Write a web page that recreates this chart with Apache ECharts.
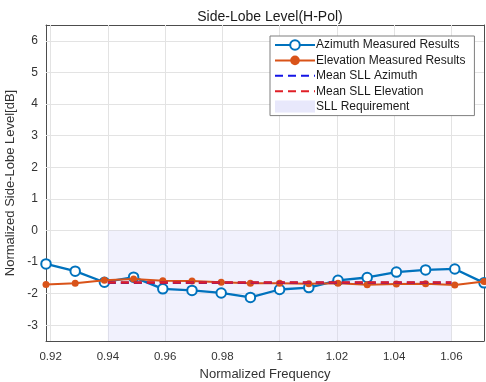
<!DOCTYPE html>
<html>
<head>
<meta charset="utf-8">
<script src="https://cdn.jsdelivr.net/npm/echarts@6/dist/echarts.min.js"></script>
<style>html,body{margin:0;padding:0;background:#fff}#c{width:486px;height:382px}</style>
</head>
<body>
<div id="c"></div>
<script>
var freq = [0.9184, 0.9286, 0.9388, 0.9490, 0.9592, 0.9694, 0.9796, 0.9898, 1.0000, 1.0102, 1.0204, 1.0306, 1.0408, 1.0510, 1.0612, 1.0714];
var azimuth = [-1.06, -1.29, -1.64, -1.48, -1.85, -1.90, -1.98, -2.12, -1.87, -1.81, -1.58, -1.49, -1.32, -1.25, -1.22, -1.66];
var elevation = [-1.71, -1.67, -1.58, -1.54, -1.59, -1.60, -1.64, -1.67, -1.67, -1.69, -1.67, -1.72, -1.70, -1.69, -1.73, -1.62];
var meanRange = [0.94, 1.06];
var meanAzimuth = -1.66;
var meanElevation = -1.65;
var reqRange = [0.94, 1.06];
var reqLevel = 0;
var xTicks = [0.92, 0.94, 0.96, 0.98, 1.00, 1.02, 1.04, 1.06];
var yTicks = [-3, -2, -1, 0, 1, 2, 3, 4, 5, 6];

function pairs(xs, ys) { return xs.map(function (x, i) { return [x, ys[i]]; }); }

var chart = echarts.init(document.getElementById('c'), null, {renderer: 'canvas'});
var font = 'Liberation Sans, Arial, sans-serif';
var axisCol = '#4d4d4d';
var gridCol = '#e3e3e3';

var xCommon = {
  type: 'value', min: freq[0], max: freq[freq.length - 1],
  axisLine: {show: true, onZero: false, lineStyle: {color: axisCol, width: 1}},
  splitLine: {show: false}
};
var yCommon = {
  type: 'value', min: -3.5, max: 6.5,
  axisLine: {show: true, onZero: false, lineStyle: {color: axisCol, width: 1}},
  splitLine: {show: false}
};

chart.setOption({
  animation: false,
  title: {
    text: 'Side-Lobe Level(H-Pol)', left: 265, top: 5, textAlign: 'center',
    textStyle: {fontFamily: font, fontSize: 14, fontWeight: 'normal', color: '#1a1a1a'}
  },
  grid: {left: 46, right: 2, top: 25, bottom: 41, containLabel: false, outerBoundsMode: 'none'},
  legend: {
    orient: 'vertical', left: 270, top: 36, z: 20,
    itemWidth: 40, itemHeight: 12, itemGap: 3.4,
    padding: [3, 9, 3, 4],
    backgroundColor: '#fff', borderColor: '#7f7f7f', borderWidth: 1,
    textStyle: {fontFamily: font, fontSize: 12, color: '#1a1a1a', padding: [0, 0, 0, -4]},
    data: [
      {name: 'Azimuth Measured Results'},
      {name: 'Elevation Measured Results'},
      {name: 'Mean SLL Azimuth', itemStyle: {opacity: 0}},
      {name: 'Mean SLL Elevation', itemStyle: {opacity: 0}},
      {name: 'SLL Requirement', icon: 'rect', itemStyle: {color: '#e8e8fb'}}
    ]
  },
  xAxis: [
    Object.assign({}, xCommon, {
      position: 'bottom',
      name: 'Normalized Frequency', nameLocation: 'middle', nameGap: 27,
      nameTextStyle: {fontFamily: font, fontSize: 13, color: '#333'},
      axisTick: {show: true, inside: true, length: 4, customValues: xTicks, lineStyle: {color: axisCol}},
      axisLabel: {customValues: xTicks, fontFamily: font, fontSize: 11.5, color: '#333', margin: 10,
        formatter: function (v) { return Math.abs(v - 1) < 1e-9 ? '1' : String(+v.toFixed(2)); }}
    }),
    Object.assign({}, xCommon, {
      position: 'top',
      axisTick: {show: true, inside: true, length: 4, customValues: xTicks, lineStyle: {color: axisCol}},
      axisLabel: {show: false}
    })
  ],
  yAxis: [
    Object.assign({}, yCommon, {
      position: 'left',
      name: 'Normalized Side-Lobe Level[dB]', nameLocation: 'middle', nameGap: 14,
      nameTextStyle: {fontFamily: font, fontSize: 13, color: '#333'},
      axisTick: {show: true, inside: true, length: 4, customValues: yTicks, lineStyle: {color: axisCol}},
      axisLabel: {customValues: yTicks, fontFamily: font, fontSize: 12, color: '#333', margin: 8}
    }),
    Object.assign({}, yCommon, {
      position: 'right',
      axisTick: {show: true, inside: true, length: 4, customValues: yTicks, lineStyle: {color: axisCol}},
      axisLabel: {show: false}
    })
  ],
  series: [
    {
      name: 'SLL Requirement', type: 'line', xAxisIndex: 0, yAxisIndex: 0, z: 1,
      data: pairs(reqRange, [reqLevel, reqLevel]),
      symbol: 'none', lineStyle: {width: 0, opacity: 0},
      itemStyle: {color: '#e8e8fb'},
      areaStyle: {color: 'rgba(210,210,248,0.45)', origin: 'start'},
      silent: true
    },
    {
      name: 'grid', type: 'line', xAxisIndex: 0, yAxisIndex: 0, z: 1, silent: true,
      data: [], symbol: 'none',
      markLine: {
        silent: true, symbol: 'none', label: {show: false}, z: 1,
        lineStyle: {color: gridCol, width: 1, type: 'solid'},
        data: xTicks.map(function (v) { return {xAxis: v}; }).concat(
              yTicks.map(function (v) { return {yAxis: v}; }))
      }
    },
    {
      name: 'Azimuth Measured Results', type: 'line', z: 3,
      data: pairs(freq, azimuth),
      symbol: 'emptyCircle', symbolSize: 9.5,
      itemStyle: {color: '#0072BD', borderWidth: 2.2},
      lineStyle: {color: '#0072BD', width: 2.3}
    },
    {
      name: 'Elevation Measured Results', type: 'line', z: 4,
      data: pairs(freq, elevation),
      symbol: 'circle', symbolSize: 7,
      itemStyle: {color: '#D95319'},
      lineStyle: {color: '#D95319', width: 2}
    },
    {
      name: 'Mean SLL Azimuth', type: 'line', z: 5,
      data: pairs(meanRange, [meanAzimuth, meanAzimuth]),
      symbol: 'none',
      itemStyle: {color: '#1515e6'},
      lineStyle: {color: '#1515e6', width: 2.5, type: [8, 5]}
    },
    {
      name: 'Mean SLL Elevation', type: 'line', z: 6,
      data: pairs(meanRange, [meanElevation, meanElevation]),
      symbol: 'none',
      itemStyle: {color: '#e01f26'},
      lineStyle: {color: '#e01f26', width: 2.5, type: [8, 5]}
    }
  ]
});
</script>
</body>
</html>
